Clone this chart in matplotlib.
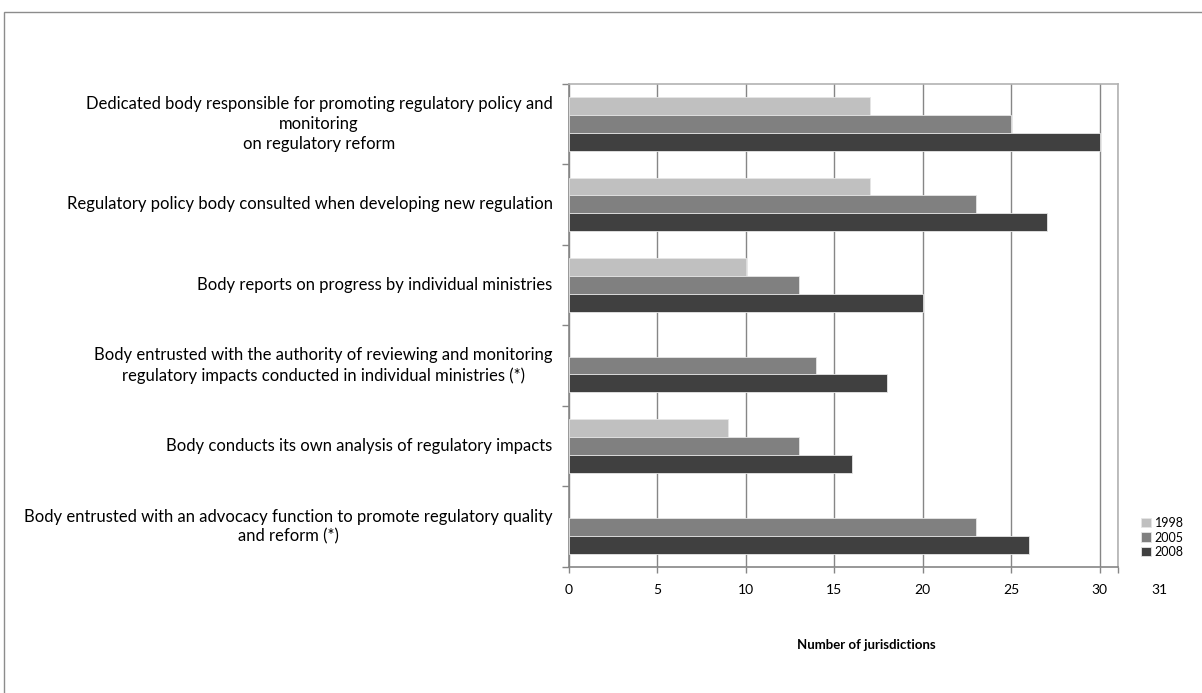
import numpy as np
import matplotlib.pyplot as plt
from matplotlib.patches import Rectangle
from matplotlib.transforms import ScaledTranslation

plt.rcParams['font.family'] = ['Lato', 'DejaVu Sans']

# Categories, top to bottom
categories = [
    "Dedicated body responsible for promoting regulatory policy and\nmonitoring\non regulatory reform",
    "Regulatory policy body consulted when developing new regulation",
    "Body reports on progress by individual ministries",
    "Body entrusted with the authority of reviewing and monitoring\nregulatory impacts conducted in individual ministries (*)",
    "Body conducts its own analysis of regulatory impacts",
    "Body entrusted with an advocacy function to promote regulatory quality\nand reform (*)",
]
years = ["1998", "2005", "2008"]
# None = not surveyed that year
v1998 = [17, 17, 10, None, 9, None]
v2005 = [25, 23, 13, 14, 13, 23]
v2008 = [30, 27, 20, 18, 16, 26]
xticks = [0, 5, 10, 15, 20, 25, 30, 31]

colors = ["#c0c0c0", "#808080", "#404040"]
series = [v1998, v2005, v2008]

fig = plt.figure(figsize=(12.02, 6.93), dpi=100)
W, H = 1202, 693
ax = fig.add_axes([568.5 / W, 1 - 567 / H, (1117.5 - 568.5) / W, (567 - 83.5) / H])

n = len(categories)
y = np.arange(n)
bar_h = 1 / 4.5
for i, (vals, col, yr) in enumerate(zip(series, colors, years)):
    vals = np.array([np.nan if v is None else v for v in vals], dtype=float)
    ax.barh(y + (i - 1) * bar_h, vals, height=bar_h, color=col,
            edgecolor="#e6e6e6", linewidth=0.6, label=yr, zorder=3)

ax.set_ylim(n - 0.5, -0.5)
ax.set_xlim(0, 31)

# category labels centred within each group, ticks on group boundaries
ax.set_yticks(np.arange(-0.5, n, 1.0))
ax.set_yticklabels([])
ax.tick_params(axis="y", length=5, color="#868686", width=1)
for yi, cat in zip(y, categories):
    ax.text(-0.9, yi, cat, ha="right", va="center", multialignment="center",
            fontsize=12, linespacing=1.3, color="black")

ax.set_xticks(xticks)
ax.set_xticklabels([str(t) for t in xticks], fontsize=10)
ax.tick_params(axis="x", length=4, color="#868686", width=1, pad=8)
lbl31 = ax.get_xticklabels()[-1]
lbl31.set_transform(lbl31.get_transform() + ScaledTranslation(0.42, 0, fig.dpi_scale_trans))

ax.xaxis.grid(True, color="#868686", linewidth=1, zorder=0)
ax.set_axisbelow(True)
for side in ["left", "bottom"]:
    ax.spines[side].set_color("#868686")
    ax.spines[side].set_linewidth(1.2)
for side in ["top", "right"]:
    ax.spines[side].set_color("#b3b3b3")
    ax.spines[side].set_linewidth(1.2)

ax.set_xlabel("Number of jurisdictions", fontsize=9.5, fontweight="bold")
ax.xaxis.set_label_coords(0.542, -0.148)

leg = ax.legend(loc="upper left", bbox_to_anchor=(1136 / W, 1 - 512 / H),
                bbox_transform=fig.transFigure, frameon=False, fontsize=9,
                handlelength=0.8, handleheight=0.8, handletextpad=0.3,
                labelspacing=0.2, borderaxespad=0)

# outer chart frame
fig.add_artist(Rectangle((4 / W, -0.05), 1.2, 1 - 12 / H + 0.05, transform=fig.transFigure,
                         fill=False, edgecolor="#8c8c8c", linewidth=1))

fig.savefig("out.png", dpi=100, facecolor="white")
